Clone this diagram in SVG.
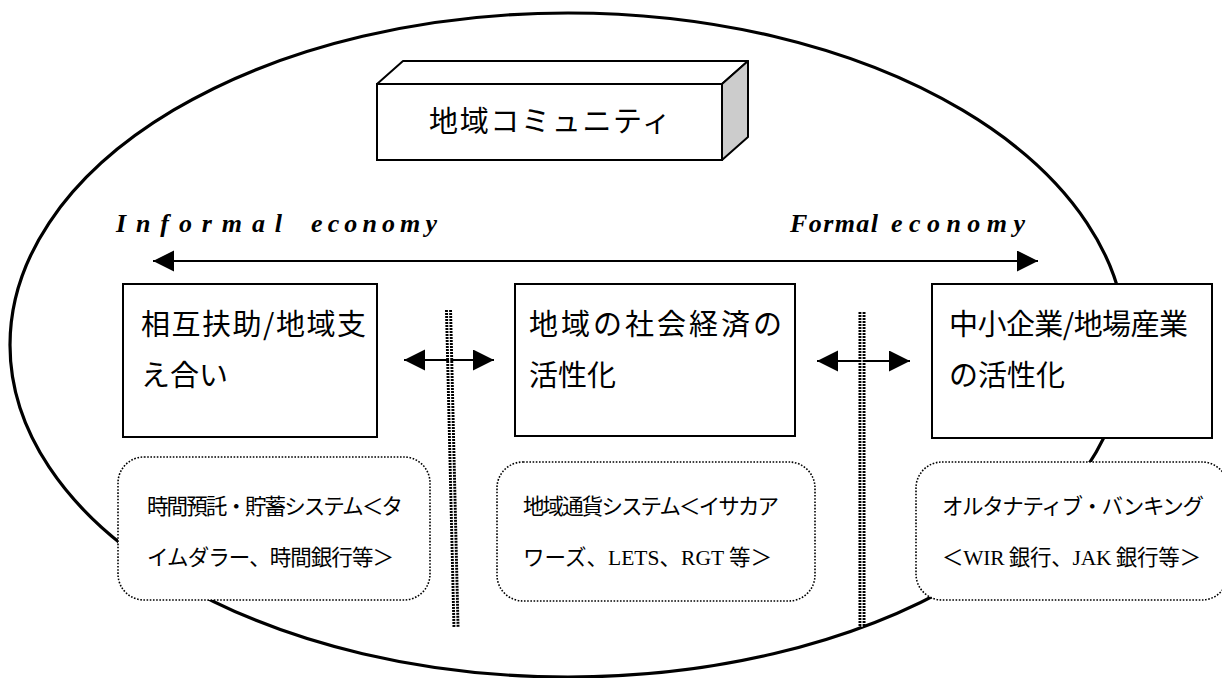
<svg xmlns="http://www.w3.org/2000/svg" width="1222" height="678" viewBox="0 0 1222 678">
<style>
.bg{fill:#ffffff}
.ell{fill:none;stroke:#000;stroke-width:3.2}
.box{fill:#fff;stroke:#000;stroke-width:2}
.dot{fill:#fff;stroke:#000;stroke-width:1.6;stroke-dasharray:1.6 1.6}
.ttl{font-family:"Noto Sans CJK JP",sans-serif;font-size:29px;fill:#000}
.sub{font-family:"Noto Sans CJK JP",sans-serif;font-size:21.5px;fill:#000}
.lat{font-family:"Liberation Serif",serif;font-size:21.5px}
.eco{font-family:"Liberation Serif",serif;font-size:26px;font-weight:bold;font-style:italic;fill:#000}
.arr{stroke:#000;stroke-width:2;fill:none}
.bar{stroke:#000;stroke-width:7;stroke-dasharray:2 1;fill:none}
.barc{stroke:#fff;stroke-width:1.2;fill:none}
</style>
<defs>
<marker id="ah" markerUnits="userSpaceOnUse" markerWidth="22" markerHeight="22" refX="21" refY="10.5" orient="auto-start-reverse">
<path d="M0,0 L21,10.5 L0,21 Z" fill="#000"/>
</marker>
</defs>
<rect class="bg" x="0" y="0" width="1222" height="678"/>
<ellipse id="community-ellipse" class="ell" cx="568" cy="345" rx="558" ry="332"/>

<g id="community">
<polygon points="377,84 403,61 748,61 722,84" fill="#fff" stroke="#000" stroke-width="2" stroke-linejoin="round"/>
<polygon points="722,84 748,61 748,137 722,160" fill="#cccccc" stroke="#000" stroke-width="2" stroke-linejoin="round"/>
<rect x="377" y="84" width="345" height="76" class="box"/>
<text class="ttl" x="429" y="132" font-size="32" textLength="242" lengthAdjust="spacing">地域コミュニティ</text>
</g>

<g id="economy-labels">
<text class="eco" x="116" y="232" textLength="166" lengthAdjust="spacing">Informal</text>
<text class="eco" x="311" y="232" textLength="126" lengthAdjust="spacing">economy</text>
<text class="eco" x="790" y="232" textLength="88" lengthAdjust="spacing">Formal</text>
<text class="eco" x="891" y="232" textLength="134" lengthAdjust="spacing">economy</text>
</g>

<g id="connectors">
<line class="arr" x1="153" y1="261" x2="1038" y2="261" marker-start="url(#ah)" marker-end="url(#ah)"/>
<line class="arr" x1="404" y1="360" x2="494" y2="360" marker-start="url(#ah)" marker-end="url(#ah)"/>
<line class="arr" x1="817" y1="361" x2="910" y2="361" marker-start="url(#ah)" marker-end="url(#ah)"/>
</g>

<g id="separators">
<line class="bar" x1="448.5" y1="310" x2="456" y2="627"/>
<line class="barc" x1="448.5" y1="310" x2="456" y2="627"/>
<line class="bar" x1="862" y1="312" x2="862" y2="627"/>
<line class="barc" x1="862" y1="312" x2="862" y2="627"/>
</g>

<g id="mutual-aid">
<rect x="123" y="284" width="254" height="153" class="box"/>
<text class="ttl" x="141" y="335" textLength="225" lengthAdjust="spacing">相互扶助/地域支</text>
<text class="ttl" x="141" y="386">え合い</text>
</g>

<g id="local-socioeconomy">
<rect x="515" y="284" width="280" height="152" class="box"/>
<text class="ttl" x="529" y="335" textLength="253" lengthAdjust="spacing">地域の社会経済の</text>
<text class="ttl" x="529" y="386">活性化</text>
</g>

<g id="sme-industry">
<rect x="932" y="284" width="280" height="154" class="box"/>
<text class="ttl" x="949" y="335" textLength="239" lengthAdjust="spacing">中小企業/地場産業</text>
<text class="ttl" x="949" y="386">の活性化</text>
</g>

<g id="time-bank">
<rect x="118" y="457" width="312" height="143" rx="26" ry="26" class="dot"/>
<text class="sub" x="147" y="514" textLength="256" lengthAdjust="spacing">時間預託・貯蓄システム＜タ</text>
<text class="sub" x="147" y="565" textLength="247" lengthAdjust="spacing">イムダラー、時間銀行等＞</text>
</g>

<g id="local-currency">
<rect x="497" y="462" width="318" height="139" rx="26" ry="26" class="dot"/>
<text class="sub" x="523" y="514" textLength="256" lengthAdjust="spacing">地域通貨システム＜イサカア</text>
<text class="sub" x="523" y="565" textLength="249" lengthAdjust="spacing">ワーズ、<tspan class="lat">LETS</tspan>、<tspan class="lat">RGT</tspan> 等＞</text>
</g>

<g id="alt-banking">
<rect x="916" y="462" width="312" height="138" rx="26" ry="26" class="dot"/>
<text class="sub" x="942" y="514" textLength="262" lengthAdjust="spacing">オルタナティブ・バンキング</text>
<text class="sub" x="942" y="565" textLength="259" lengthAdjust="spacing">＜<tspan class="lat">WIR</tspan> 銀行、<tspan class="lat">JAK</tspan> 銀行等＞</text>
</g>
</svg>
